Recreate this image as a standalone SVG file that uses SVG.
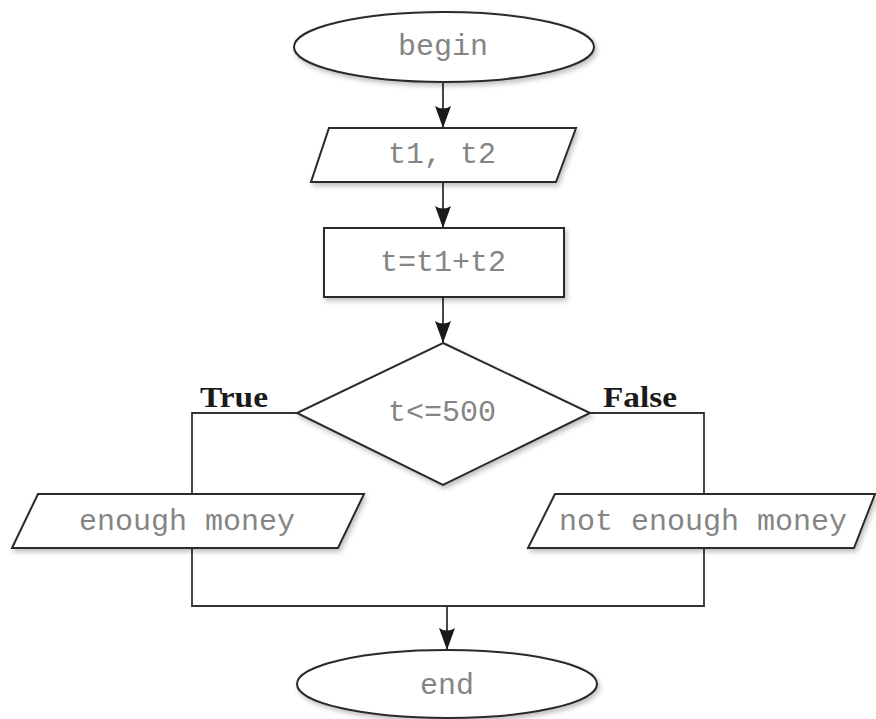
<svg xmlns="http://www.w3.org/2000/svg" width="876" height="719" viewBox="0 0 876 719">
  <style>
    .shape { fill: #ffffff; stroke: #2a2a2a; stroke-width: 2; filter: url(#shadow); }
    .line { fill: none; stroke: #333333; stroke-width: 1.8; }
    .label { font-family: "Liberation Mono", "Courier New", monospace; font-size: 30px; fill: #858585; text-anchor: middle; dominant-baseline: central; }
    .branch { font-family: "Liberation Serif", "Times New Roman", serif; font-size: 29px; font-weight: bold; fill: #1a1a1a; }
  </style>
  <defs>
    <filter id="shadow" x="-10%" y="-20%" width="125%" height="150%">
      <feDropShadow dx="2" dy="3" stdDeviation="2.5" flood-color="#000000" flood-opacity="0.25"/>
    </filter>
    <marker id="arrow" viewBox="0 0 22 16" refX="21" refY="8" markerWidth="22" markerHeight="16" markerUnits="userSpaceOnUse" orient="auto">
      <path d="M0,0 Q5,8 0,16 L22,8 Z" fill="#1a1a1a"/>
    </marker>
  </defs>
  <rect width="876" height="719" fill="#ffffff"/>

  <!-- connectors -->
  <g id="connectors">
    <line class="line" x1="443" y1="82" x2="443" y2="127" marker-end="url(#arrow)"/>
    <line class="line" x1="443" y1="182" x2="443" y2="227" marker-end="url(#arrow)"/>
    <line class="line" x1="443" y1="297" x2="443" y2="342" marker-end="url(#arrow)"/>
    <!-- True branch -->
    <polyline class="line" points="297,413 192,413 192,494"/>
    <!-- False branch -->
    <polyline class="line" points="590,413 704,413 704,494"/>
    <!-- merge -->
    <polyline class="line" points="192,548 192,606 704,606 704,548"/>
    <line class="line" x1="447" y1="606" x2="447" y2="649" marker-end="url(#arrow)"/>
  </g>

  <g id="begin">
    <ellipse class="shape" cx="444" cy="47" rx="150" ry="35"/>
    <text class="label" x="443" y="47">begin</text>
  </g>

  <g id="input">
    <polygon class="shape" points="329,128 576,128 556,182 311,182"/>
    <text class="label" x="442" y="155">t1, t2</text>
  </g>

  <g id="sum">
    <rect class="shape" x="324" y="228" width="240" height="69"/>
    <text class="label" x="443" y="263">t=t1+t2</text>
  </g>

  <g id="decision">
    <polygon class="shape" points="443,343 590,413 443,485 297,413"/>
    <text class="label" x="442" y="413">t&lt;=500</text>
    <text class="branch" x="200" y="407" textLength="68" lengthAdjust="spacingAndGlyphs">True</text>
    <text class="branch" x="603" y="407" textLength="74" lengthAdjust="spacingAndGlyphs">False</text>
  </g>

  <g id="enough">
    <polygon class="shape" points="38,494 364,494 338,548 12,548"/>
    <text class="label" x="187" y="522">enough money</text>
  </g>

  <g id="not-enough">
    <polygon class="shape" points="555,494 875,494 854,548 528,548"/>
    <text class="label" x="703" y="522">not enough money</text>
  </g>

  <g id="end">
    <ellipse class="shape" cx="447" cy="684" rx="150" ry="34"/>
    <text class="label" x="447" y="686">end</text>
  </g>
</svg>
